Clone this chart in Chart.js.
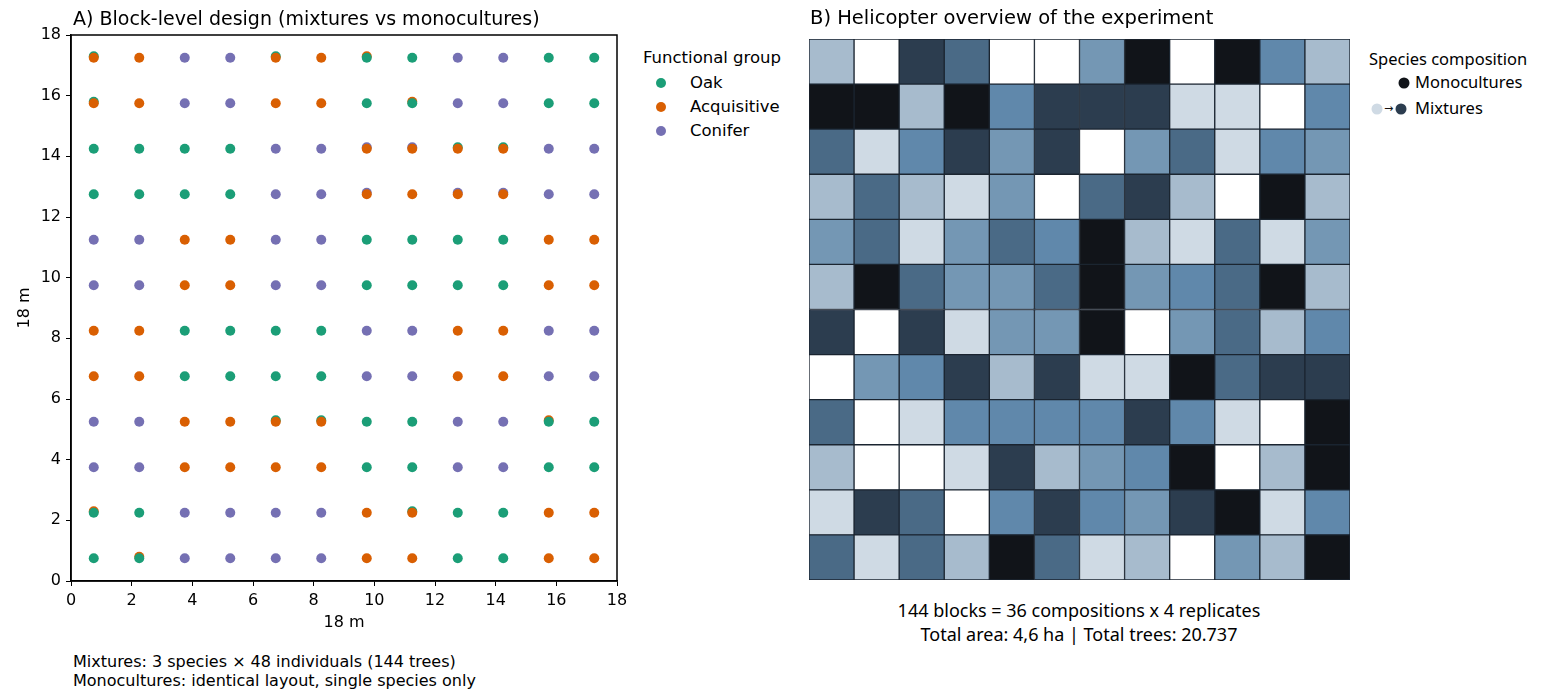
<!DOCTYPE html>
<html>
<head>
<meta charset="utf-8">
<script src="https://cdn.jsdelivr.net/npm/chart.js@4/dist/chart.umd.min.js"></script>
<style>
  html, body { margin: 0; padding: 0; background: #fff; width: 1544px; height: 693px; overflow: hidden; }
  .t { position: absolute; white-space: nowrap; color: #000; transform: translateY(-50%); line-height: 1; }
  .dj { font-family: 'DejaVu Sans', sans-serif; }
  .ns { font-family: 'Noto Sans', 'Open Sans', sans-serif; }
  .dot { position: absolute; border-radius: 50%; transform: translate(-50%, -50%); }
  #cA { position: absolute; left: 0; top: 0; }
  #cB { position: absolute; left: 809px; top: 39px; }
</style>
</head>
<body>
<canvas id="cA" width="640" height="640" style="width:640px;height:640px"></canvas>
<canvas id="cB" width="541" height="541" style="width:541px;height:541px"></canvas>

<div class="t dj" style="left:73px;top:18px;font-size:19px">A) Block-level design (mixtures vs monocultures)</div>
<div class="t dj" style="left:810px;top:18px;font-size:19.5px">B) Helicopter overview of the experiment</div>

<div id="legendA"></div>

<div class="t dj" style="left:73px;top:662px;font-size:16px">Mixtures: 3 species × 48 individuals (144 trees)</div>
<div class="t dj" style="left:73px;top:681px;font-size:16px">Monocultures: identical layout, single species only</div>

<div class="t ns" style="left:1369px;top:59px;font-size:16.5px">Species composition</div>
<div class="dot" style="left:1404px;top:83px;width:11px;height:11px;background:#111419"></div>
<div class="t ns" style="left:1415px;top:82px;font-size:16.5px">Monocultures</div>
<div class="dot" style="left:1377px;top:109px;width:11px;height:11px;background:#cfdae4"></div>
<div class="t dj" style="left:1384px;top:108px;font-size:11px;color:#111">→</div>
<div class="dot" style="left:1401px;top:109px;width:11px;height:11px;background:#2c3d4f"></div>
<div class="t ns" style="left:1415px;top:108px;font-size:16.5px">Mixtures</div>

<div class="t ns" style="left:1079px;top:610px;font-size:18px;transform:translate(-50%,-50%)">144 blocks = 36 compositions x 4 replicates</div>
<div class="t ns" style="left:1079px;top:634px;font-size:18px;transform:translate(-50%,-50%)">Total area: 4,6 ha | Total trees: 20.737</div>

<script>
// ---- Panel A: tree positions inside one 18 m x 18 m block ----
const gridPos = [0.75, 2.25, 3.75, 5.25, 6.75, 8.25, 9.75, 11.25, 12.75, 14.25, 15.75, 17.25];
const rowPos = [17.25, 15.75, 14.25, 12.75, 11.25, 9.75, 8.25, 6.75, 5.25, 3.75, 2.25, 0.75];
// species code per planting position, top row first (O = oak, A = acquisitive, C = conifer)
const layoutRows = [
  'AACCAAOOCCOO',
  'AACCAAOOCCOO',
  'OOOOCCAAAACC',
  'OOOOCCAAAACC',
  'CCAACCOOOOAA',
  'CCAACCOOOOAA',
  'AAOOOOCCAACC',
  'AAOOOOCCAACC',
  'CCAAAAOOCCOO',
  'CCAAAAOOCCOO',
  'OOCCCCAAOOAA',
  'OOCCCCAAOOAA'
];
const groupNames = ['Oak', 'Acquisitive', 'Conifer'];
const groupCodes = ['O', 'A', 'C'];
const groupColors = ['#1b9e77', '#d95f02', '#7570b3'];
const axisTicks = [0, 2, 4, 6, 8, 10, 12, 14, 16, 18];
// trees partly hidden behind a neighbouring marker
const hiddenOak = [[0.75, 17.3], [6.75, 17.3], [0.75, 15.8], [12.75, 14.3], [14.25, 14.3], [11.25, 2.3], [6.75, 5.3], [8.25, 5.3]];
const hiddenAcq = [[9.75, 17.3], [11.25, 15.8], [0.75, 2.3], [2.25, 0.8], [15.75, 5.3]];
const hiddenCon = [[9.75, 14.3], [11.25, 14.3], [9.75, 12.8], [12.75, 12.8], [14.25, 12.8]];

// ---- Panel B: shade level of every block, top row first ----
// 0 = lightest mixture ... 6 = darkest mixture, 7 = monoculture
const blockRows = [
  [2, 0, 6, 5, 0, 0, 3, 7, 0, 7, 4, 2],
  [7, 7, 2, 7, 4, 6, 6, 6, 1, 1, 0, 4],
  [5, 1, 4, 6, 3, 6, 0, 3, 5, 1, 4, 3],
  [2, 5, 2, 1, 3, 0, 5, 6, 2, 0, 7, 2],
  [3, 5, 1, 3, 5, 4, 7, 2, 1, 5, 1, 3],
  [2, 7, 5, 3, 3, 5, 7, 3, 4, 5, 7, 2],
  [6, 0, 6, 1, 3, 3, 7, 0, 3, 5, 2, 4],
  [0, 3, 4, 6, 2, 6, 1, 1, 7, 5, 6, 6],
  [5, 0, 1, 4, 4, 4, 4, 6, 4, 1, 0, 7],
  [2, 0, 0, 1, 6, 2, 3, 4, 7, 0, 2, 7],
  [1, 6, 5, 0, 4, 6, 4, 3, 6, 7, 1, 4],
  [5, 1, 5, 2, 7, 5, 1, 2, 0, 3, 2, 7]
];
const blockColumns = ['1', '2', '3', '4', '5', '6', '7', '8', '9', '10', '11', '12'];
const shadePalette = ['#ffffff', '#cfdae4', '#a7bbcd', '#7497b4', '#6088ab', '#4a6a86', '#2c3d4f', '#111419'];

// legend for panel A
(function () {
  const box = document.getElementById('legendA');
  let html = '<div class="t dj" style="left:643px;top:58px;font-size:16.5px">Functional group</div>';
  groupNames.forEach((name, i) => {
    const y = 83 + i * 24;
    html += '<div class="dot" style="left:661px;top:' + y + 'px;width:10px;height:10px;background:' + groupColors[i] + '"></div>';
    html += '<div class="t dj" style="left:690px;top:' + y + 'px;font-size:16.5px">' + name + '</div>';
  });
  box.innerHTML = html;
})();

const framePlugin = {
  id: 'frame',
  afterDraw(chart) {
    const a = chart.chartArea, ctx = chart.ctx;
    ctx.save();
    ctx.strokeStyle = '#000';
    ctx.lineWidth = 1.5;
    ctx.strokeRect(a.left, a.top, a.right - a.left, a.bottom - a.top);
    ctx.restore();
  }
};

const treeData = groupCodes.map(code => {
  const pts = [];
  layoutRows.forEach((row, r) => {
    row.split('').forEach((c, k) => {
      if (c === code) pts.push({ x: gridPos[k], y: rowPos[r] });
    });
  });
  return pts;
});
const hiddenSets = [hiddenOak, hiddenAcq, hiddenCon];

const datasetsA = [];
hiddenSets.forEach((set, i) => {
  datasetsA.push({
    label: groupNames[i] + ' (behind)',
    data: set.map(p => ({ x: p[0], y: p[1] })),
    backgroundColor: groupColors[i],
    pointRadius: 5, pointBorderWidth: 0, order: 10
  });
});
treeData.forEach((pts, i) => {
  datasetsA.push({
    label: groupNames[i],
    data: pts,
    backgroundColor: groupColors[i],
    pointRadius: 5, pointBorderWidth: 0, order: 3 - i
  });
});

const axisFont = { family: 'DejaVu Sans', size: 16 };
function axisCommon(isX) {
  return {
    type: 'linear', min: 0, max: 18,
    afterBuildTicks: s => { s.ticks = axisTicks.map(v => ({ value: v })); },
    afterFit: s => { if (isX) s.height = 59; else s.width = 71; },
    ticks: { color: '#000', font: axisFont, padding: isX ? 5 : 5, maxRotation: 0 },
    grid: { drawOnChartArea: false, drawTicks: true, tickLength: 5, tickWidth: 1, tickColor: '#000' },
    border: { display: true, color: '#000', width: 1.5 },
    title: {
      display: true, text: '18 m', color: '#000', font: axisFont,
      padding: isX ? { top: 0, bottom: 8 } : { top: 15, bottom: 0 }
    }
  };
}

new Chart(document.getElementById('cA'), {
  type: 'scatter',
  data: { datasets: datasetsA },
  options: {
    responsive: false, animation: false,
    layout: { padding: { left: 0, top: 35, right: 23, bottom: 0 } },
    plugins: { legend: { display: false }, tooltip: { enabled: false } },
    scales: { x: axisCommon(true), y: axisCommon(false) }
  },
  plugins: [framePlugin]
});

// ---- Panel B: one stacked bar segment per block ----
const datasetsB = blockRows.slice().reverse().map((row, i) => ({
  label: 'row ' + (i + 1),
  data: row.map(() => 1),
  backgroundColor: row.map(l => shadePalette[l]),
  borderColor: '#1b2530',
  borderWidth: 1,
  borderSkipped: false,
  barPercentage: 1,
  categoryPercentage: 1
}));

new Chart(document.getElementById('cB'), {
  type: 'bar',
  data: { labels: blockColumns, datasets: datasetsB },
  options: {
    responsive: false, animation: false,
    layout: { padding: 0 },
    plugins: { legend: { display: false }, tooltip: { enabled: false } },
    scales: {
      x: { display: false, stacked: true },
      y: { display: false, stacked: true, min: 0, max: 12 }
    }
  }
});
</script>
</body>
</html>
